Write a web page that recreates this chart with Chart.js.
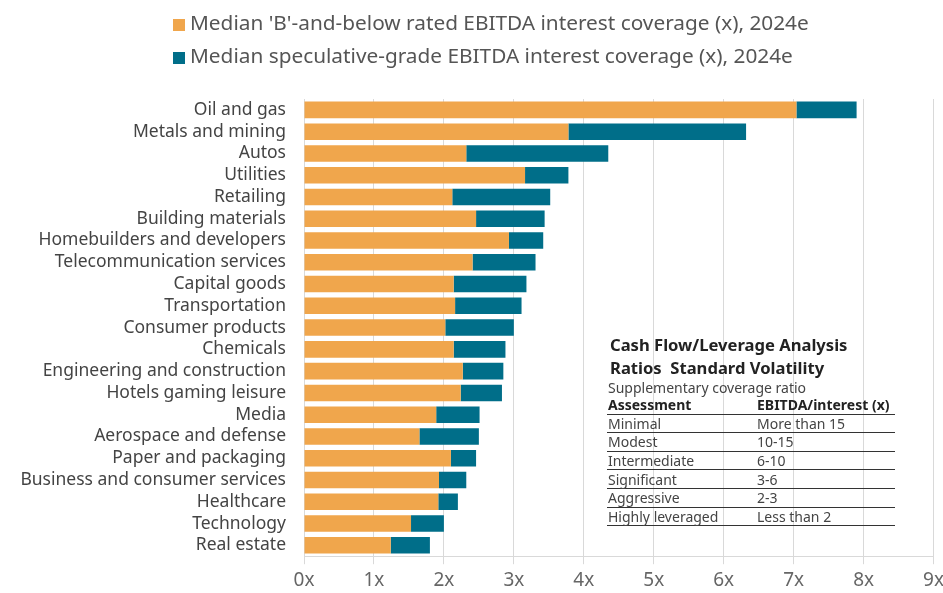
<!DOCTYPE html>
<html>
<head>
<meta charset="utf-8">
<script src="https://cdn.jsdelivr.net/npm/chart.js@4.4.1/dist/chart.umd.min.js"></script>
<style>
  body { margin: 0; background: #fff; font-family: "Noto Sans", sans-serif; }
  #wrap { position: relative; width: 943px; height: 593px; overflow: hidden; }
  #chart { position: absolute; left: 0; top: 0; }
  #legend { position: absolute; left: 173px; top: 6px; font-size: 20.8px; color: #555; }
  #legend div { height: 33px; line-height: 33px; white-space: nowrap; }
  #legend span.box { display: inline-block; width: 12px; height: 12px; margin-right: 5px; vertical-align: -1px; }
  #ratios { position: absolute; left: 607px; top: 333px; width: 288px; color: #222; }
  #ratios .t { font-weight: bold; font-size: 16.6px; line-height: 23px; padding-left: 3px; }
  #ratios .s { font-size: 14px; color: #444; line-height: 17px; padding-left: 1px; }
  #ratios table { border-collapse: collapse; width: 100%; font-size: 14px; }
  #ratios td, #ratios th { text-align: left; padding: 0 0 0 1px; height: 17.6px; line-height: 17px; border-bottom: 1px solid #333; color: #444; font-weight: normal; white-space: nowrap; }
  #ratios th { font-weight: bold; color: #222; }
  #ratios td.c2, #ratios th.c2 { width: 138px; }
</style>
</head>
<body>
<div id="wrap">
  <!-- canvas is a bit larger than the page so the last tick label is cut off like the original -->
  <canvas id="chart" width="949" height="597"></canvas>
  <div id="legend"></div>
  <div id="ratios">
    <div class="t">Cash Flow/Leverage Analysis</div>
    <div class="t">Ratios&nbsp; Standard Volatility</div>
    <div class="s">Supplementary coverage ratio</div>
    <table id="ratioTable"></table>
  </div>
</div>
<script>
const categories = [
  "Oil and gas", "Metals and mining", "Autos", "Utilities", "Retailing",
  "Building materials", "Homebuilders and developers", "Telecommunication services",
  "Capital goods", "Transportation", "Consumer products", "Chemicals",
  "Engineering and construction", "Hotels gaming leisure", "Media",
  "Aerospace and defense", "Paper and packaging", "Business and consumer services",
  "Healthcare", "Technology", "Real estate"
];
const bRated = [7.04, 3.78, 2.32, 3.16, 2.12, 2.46, 2.93, 2.41, 2.14, 2.16, 2.02,
  2.14, 2.27, 2.24, 1.89, 1.65, 2.10, 1.93, 1.92, 1.53, 1.24];
const specGrade = [7.90, 6.32, 4.35, 3.78, 3.52, 3.44, 3.42, 3.31, 3.18, 3.11, 3.00,
  2.88, 2.85, 2.83, 2.51, 2.50, 2.46, 2.32, 2.20, 2.00, 1.80];
const seriesNames = [
  "Median 'B'-and-below rated EBITDA interest coverage (x), 2024e",
  "Median speculative-grade EBITDA interest coverage (x), 2024e"
];
const seriesColors = ["#F0A64C", "#006E89"];
const assessments = ["Minimal", "Modest", "Intermediate", "Significant", "Aggressive", "Highly leveraged"];
const coverageRanges = ["More than 15", "10-15", "6-10", "3-6", "2-3", "Less than 2"];

// legend
const legend = document.getElementById("legend");
seriesNames.forEach((name, i) => {
  legend.innerHTML += `<div><span class="box" style="background:${seriesColors[i]}"></span>${name}</div>`;
});

// ratio table
let rows = `<tr><th>Assessment</th><th class="c2">EBITDA/interest (x)</th></tr>`;
assessments.forEach((a, i) => {
  rows += `<tr><td>${a}</td><td class="c2">${coverageRanges[i]}</td></tr>`;
});
document.getElementById("ratioTable").innerHTML = rows;

const ctx = document.getElementById("chart").getContext("2d");
new Chart(ctx, {
  type: "bar",
  data: {
    labels: categories,
    datasets: [
      {
        label: seriesNames[0],
        data: bRated,
        backgroundColor: seriesColors[0],
        grouped: false,
        categoryPercentage: 1,
        barPercentage: 0.76,
      },
      {
        label: seriesNames[1],
        data: categories.map((c, i) => [bRated[i], specGrade[i]]),
        backgroundColor: seriesColors[1],
        grouped: false,
        categoryPercentage: 1,
        barPercentage: 0.76,
      },
    ],
  },
  options: {
    indexAxis: "y",
    responsive: false,
    animation: false,
    layout: { padding: { top: 99, left: 0, right: 0, bottom: 0 } },
    plugins: { legend: { display: false }, tooltip: { enabled: false } },
    scales: {
      x: {
        min: 0,
        max: 9,
        ticks: {
          stepSize: 1,
          color: "#666",
          font: { family: "Noto Sans", size: 19 },
          padding: 5,
          callback: (v) => v + "x",
        },
        grid: { color: "#d9d9d9", tickLength: 8 },
        border: { color: "#d9d9d9" },
      },
      y: {
        afterFit: (scale) => { scale.width = 304; },
        ticks: {
          color: "#444",
          font: { family: "Noto Sans", size: 17.5 },
          padding: 10,
          autoSkip: false,
        },
        grid: { display: false },
        border: { display: false },
      },
    },
  },
});
</script>
</body>
</html>
